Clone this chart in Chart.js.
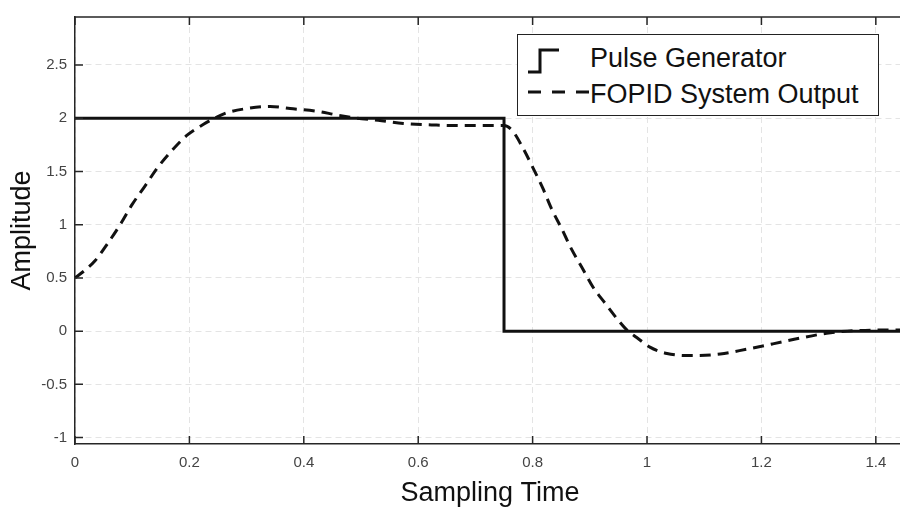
<!DOCTYPE html>
<html>
<head>
<meta charset="utf-8">
<script src="https://cdn.jsdelivr.net/npm/chart.js@4"></script>
<style>
  html, body { margin: 0; padding: 0; background: #fff; overflow: hidden; }
  #wrap { position: relative; width: 910px; height: 512px; }
  #legend {
    position: absolute; left: 517px; top: 34px; width: 360px; height: 80px;
    border: 1px solid #222; background: #fff;
    font-family: "Liberation Sans", Arial, sans-serif; font-size: 27px; color: #111;
  }
  #legend span { position: absolute; left: 72px; line-height: 27px; white-space: nowrap; }
  #legend svg { position: absolute; left: 0; top: 0; }
</style>
</head>
<body>
<div id="wrap">
  <canvas id="myChart"></canvas>
  <div id="legend">
    <svg width="80" height="80">
      <polyline points="10,37 22,37 22,15 41,15" fill="none" stroke="#111" stroke-width="3"/>
      <line x1="10" y1="57" x2="71" y2="57" stroke="#111" stroke-width="3" stroke-dasharray="13,11"/>
    </svg>
    <span style="top:10px">Pulse Generator</span>
    <span style="top:46px">FOPID System Output</span>
  </div>
</div>
<script>
// pulse generator (step down at 0.75)
const pulseTime = [0, 0.75, 0.75, 1.46]
const pulseAmp = [2, 2, 0, 0]

// FOPID system output
const outTime = [0, 0.017, 0.035, 0.058, 0.079, 0.1, 0.122, 0.145, 0.17, 0.196, 0.224, 0.248, 0.265, 0.3, 0.341, 0.376, 0.423, 0.458, 0.493, 0.53, 0.574, 0.632, 0.678, 0.726, 0.75,
  0.765, 0.784, 0.8, 0.818, 0.833, 0.851, 0.868, 0.886, 0.906, 0.927, 0.947, 0.965, 0.982, 1.005, 1.035, 1.081, 1.128, 1.174, 1.22, 1.268, 1.314, 1.35, 1.407, 1.46]
const outAmp = [0.5, 0.57, 0.66, 0.83, 1.0, 1.19, 1.36, 1.54, 1.7, 1.84, 1.94, 2.01, 2.05, 2.09, 2.11, 2.09, 2.065, 2.03, 2.0, 1.98, 1.95, 1.935, 1.93, 1.93, 1.93,
  1.88, 1.71, 1.54, 1.34, 1.15, 0.96, 0.77, 0.6, 0.41, 0.26, 0.12, 0.01, -0.06, -0.15, -0.21, -0.23, -0.215, -0.17, -0.12, -0.065, -0.02, 0.0, 0.01, 0.01]

const xTicks = [0, 0.2, 0.4, 0.6, 0.8, 1, 1.2, 1.4]
const yTicks = [-1, -0.5, 0, 0.5, 1, 1.5, 2, 2.5]

function toPoints(xs, ys) {
    return xs.map((v, i) => ({ x: v, y: ys[i] }))
}

// inward tick marks + top box edge, like the matlab axes
const innerTicks = {
    id: 'innerTicks',
    afterDraw(chart) {
        const { ctx, chartArea: a, scales: { x, y } } = chart
        ctx.save()
        ctx.strokeStyle = '#262626'
        ctx.lineWidth = 1.5
        ctx.beginPath()
        ctx.moveTo(a.left, a.top)
        ctx.lineTo(a.right, a.top)
        xTicks.forEach(v => {
            const px = x.getPixelForValue(v)
            ctx.moveTo(px, a.bottom); ctx.lineTo(px, a.bottom - 8)
            ctx.moveTo(px, a.top); ctx.lineTo(px, a.top + 8)
        })
        yTicks.forEach(v => {
            const py = y.getPixelForValue(v)
            ctx.moveTo(a.left, py); ctx.lineTo(a.left + 8, py)
        })
        ctx.stroke()
        ctx.restore()
    }
}

const tickFont = { family: '"Liberation Sans", Arial, sans-serif', size: 15 }
const titleFont = { family: '"Liberation Sans", Arial, sans-serif', size: 27 }

const ctx = document.getElementById('myChart')
const myChart = new Chart(ctx, {
    type: 'line',
    data: {
        datasets: [{
            label: 'Pulse Generator',
            data: toPoints(pulseTime, pulseAmp),
            borderColor: '#111',
            borderWidth: 3,
            pointRadius: 0,
            tension: 0
        }, {
            label: 'FOPID System Output',
            data: toPoints(outTime, outAmp),
            borderColor: '#111',
            borderWidth: 3,
            borderDash: [11, 7],
            pointRadius: 0,
            cubicInterpolationMode: 'monotone'
        }]
    },
    options: {
        responsive: true,
        maintainAspectRatio: false,
        animation: false,
        layout: { padding: { top: 14, right: 5, left: 0, bottom: 0 } },
        plugins: { legend: { display: false }, tooltip: { enabled: false } },
        scales: {
            x: {
                type: 'linear',
                min: 0,
                max: 1.451,
                afterBuildTicks: s => { s.ticks = xTicks.map(v => ({ value: v })) },
                afterFit: s => { s.height = 68 },
                ticks: { font: tickFont, color: '#444', padding: 10, maxRotation: 0, autoSkip: false, callback: v => String(v) },
                grid: { color: '#e4e4e4', lineWidth: 1, drawTicks: false },
                border: { color: '#262626', width: 1.5, dash: [6, 4] },
                title: { display: true, text: 'Sampling Time', font: titleFont, color: '#111', padding: { top: 0, bottom: 2 } }
            },
            y: {
                type: 'linear',
                min: -1.06,
                max: 2.95,
                afterBuildTicks: s => { s.ticks = yTicks.map(v => ({ value: v })) },
                afterFit: s => { s.width = 75 },
                ticks: { font: tickFont, color: '#444', padding: 8, autoSkip: false, callback: v => String(v) },
                grid: { color: '#e4e4e4', lineWidth: 1, drawTicks: false },
                border: { color: '#262626', width: 1.5, dash: [6, 4] },
                title: { display: true, text: 'Amplitude', font: titleFont, color: '#111', padding: { top: 6, bottom: 0 } }
            }
        }
    },
    plugins: [innerTicks]
})
</script>
</body>
</html>
